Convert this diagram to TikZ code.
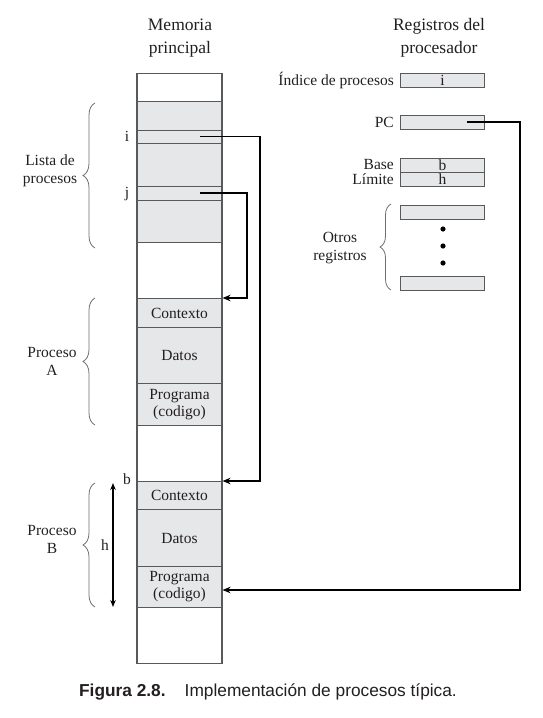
\documentclass[tikz,border=0pt]{standalone}
\usepackage{fontspec}
\setmainfont{Liberation Serif}
\newfontfamily\capfont{Liberation Sans}
\usetikzlibrary{arrows.meta,decorations.pathreplacing,calc}
\definecolor{ink}{HTML}{231F20}
\definecolor{edge}{HTML}{58595B}
\definecolor{cellfill}{HTML}{E6E7E8}
\definecolor{bracec}{HTML}{6D6E71}
\begin{document}
\begin{tikzpicture}[x=1pt,y=-1pt,
  every node/.style={text=ink},
  lbl/.style={font=\fontsize{15.5}{17.5}\selectfont, inner sep=0pt, align=center},
  ttl/.style={font=\fontsize{17.5}{23}\selectfont, align=center, inner sep=0pt},
  cell/.style={draw=edge, fill=cellfill, line width=1.1pt, minimum width=85pt,
    inner sep=0pt, anchor=north, align=center, font=\fontsize{15.5}{17}\selectfont},
  reg/.style={draw=edge, fill=cellfill, line width=1.1pt, minimum width=84pt,
    minimum height=14pt, inner sep=0pt, anchor=north west, font=\fontsize{15.5}{17}\selectfont},
  link/.style={draw=black, line width=1.6pt, -{Stealth[length=8pt,width=6.5pt]}},
  lbrace/.style={draw=bracec, line width=0.8pt, decorate, decoration={brace, amplitude=12pt}},
]
\useasboundingbox (0,0) rectangle (543,718);

% titles (base anchor sits on the last line)
\node[ttl, anchor=base] (tmem) at (180,53) {Memoria\\principal};
\node[ttl, anchor=base] (treg) at (439,53) {Registros del\\procesador};

% main memory column
\node[draw=edge, line width=1.1pt, minimum width=85pt, minimum height=590pt,
  anchor=north, inner sep=0pt] (mem) at (179.5,73) {};
\node[cell, minimum height=141pt] (lista) at (179.5,101) {};
\node[cell, minimum height=13pt] (ei) at (179.5,130) {};
\node[cell, minimum height=14pt] (ej) at (179.5,186) {};
\node[cell, minimum height=29pt] (ctxA) at (179.5,298) {Contexto};
\node[cell, minimum height=56pt] (datA) at (179.5,327) {Datos};
\node[cell, minimum height=42pt] (progA) at (179.5,383) {Programa\\(codigo)};
\node[cell, minimum height=28pt] (ctxB) at (179.5,481) {Contexto};
\node[cell, minimum height=57pt] (datB) at (179.5,509) {Datos};
\node[cell, minimum height=41pt] (progB) at (179.5,566) {Programa\\(codigo)};

% entry labels
\node[lbl, anchor=base] (li) at (127,141) {i};
\node[lbl, anchor=base] (lj) at (127,197) {j};

% processor registers
\node[reg] (regI) at (400,73) {i};
\node[reg] (regPC) at (400,115) {};
\node[reg] (regB) at (400,157.5) {b};
\node[reg] (regH) at (400,172) {h};
\node[reg] (regO1) at (400,204.5) {};
\node[reg] (regO2) at (400,276) {};
\fill[black] (443,229) circle (2.6) (443,246) circle (2.6) (443,263) circle (2.6);

\node[lbl, anchor=base east] (lidx) at (394,85) {Índice de procesos};
\node[lbl, anchor=base east] (lpc) at (394,127) {PC};
\node[lbl, anchor=base east] (lbase) at (394,169) {Base};
\node[lbl, anchor=base east] (llim) at (394,184) {Límite};
\node[lbl, anchor=base] (lotros) at (340,260) {Otros\\registros};

% braces and group labels
\draw[lbrace] (95,248) -- (95,103);
\node[lbl, anchor=base] (llista) at (50,183) {Lista de\\procesos};
\draw[lbrace] (95,425) -- (95,298);
\node[lbl, anchor=base] (lpa) at (52,375) {Proceso\\A};
\draw[lbrace] (95,607) -- (95,483);
\node[lbl, anchor=base] (lpb) at (52,553) {Proceso\\B};
\draw[lbrace, decoration={amplitude=11pt}] (391,290) -- (391,204);

% base and limit of process B
\coordinate (ht) at (113,483);
\coordinate (hb) at (113,607);
\draw[line width=1.1pt, {Stealth[length=7pt,width=5.5pt]}-{Stealth[length=7pt,width=5.5pt]}] (ht) -- (hb);
\node[lbl, anchor=base] (lh) at (105,550) {h};
\node[lbl, anchor=base] (lb) at (127,484) {b};

% pointers
\coordinate (pi) at (200,136.5);
\coordinate (ri) at (260,136.5);
\draw[link] (pi) -- (ri) |- (ctxB.north east);
\coordinate (pj) at (200,193);
\coordinate (rj) at (247,193);
\draw[link] (pj) -- (rj) |- (ctxA.north east);
\coordinate (ppc) at (467,122);
\coordinate (rpc) at (520,122);
\coordinate (tpc) at (222.5,590);
\draw[link] (ppc) -- (rpc) |- (tpc);

% caption
\node[font=\capfont\fontsize{17.3}{20}\selectfont, anchor=base] (cap) at (268,696)
  {\textbf{Figura 2.8.}\hspace{1.1em}Implementación de procesos típica.};
\end{tikzpicture}
\end{document}
